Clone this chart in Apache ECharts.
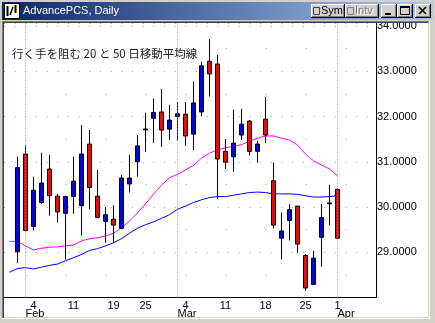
<!DOCTYPE html>
<html><head><meta charset="utf-8">
<script src="https://cdn.jsdelivr.net/npm/echarts@6/dist/echarts.min.js"></script>
<style>html,body{margin:0;padding:0;background:#D4D0C8;overflow:hidden}#c{width:435px;height:323px}</style>
</head><body><div id="c"></div>
<script>
// ---- data (index 0 = 30 Jan 2002, MA lines only) ----
const dates = ['2002-01-30','2002-01-31','2002-02-01','2002-02-04','2002-02-05','2002-02-06','2002-02-07','2002-02-08',
 '2002-02-11','2002-02-12','2002-02-13','2002-02-14','2002-02-15','2002-02-19','2002-02-20','2002-02-21','2002-02-22',
 '2002-02-25','2002-02-26','2002-02-27','2002-02-28','2002-03-01','2002-03-04','2002-03-05','2002-03-06','2002-03-07',
 '2002-03-08','2002-03-11','2002-03-12','2002-03-13','2002-03-14','2002-03-15','2002-03-18','2002-03-19','2002-03-20',
 '2002-03-21','2002-03-22','2002-03-25','2002-03-26','2002-03-27','2002-03-28','2002-04-01'];
const opens  = [null,29.01,31.17,29.57,30.10,30.84,30.24,29.86,30.23,30.03,31.39,30.24,29.68,29.73,29.53,30.51,31.00,
 31.725,31.96,32.10,31.72,32.00,32.05,31.61,32.10,33.22,33.16,31.23,31.11,31.59,31.90,31.23,31.94,30.58,29.31,29.70,
 30.02,28.93,28.29,29.33,30.09,30.39];
const closes = [null,30.87,29.48,30.37,30.53,30.25,29.89,30.23,30.57,31.17,30.43,29.77,29.83,29.60,30.64,30.64,31.35,
 31.705,32.09,31.70,31.92,32.06,31.57,32.30,33.12,32.94,31.06,30.99,31.41,31.83,31.23,31.39,31.59,29.60,29.47,29.94,
 29.18,28.21,28.87,29.77,30.07,29.31];
const lows   = [null,28.76,29.46,29.48,30.07,29.81,29.66,28.84,29.85,29.37,29.95,29.75,29.21,29.21,29.51,30.32,30.67,
 31.22,31.41,31.33,31.48,31.48,31.35,31.26,32.01,32.44,30.17,30.84,30.78,31.48,31.14,30.98,31.41,29.53,28.84,29.26,
 28.98,28.15,28.28,28.68,29.59,29.30];
const highs  = [null,31.11,31.36,30.67,31.20,31.15,30.29,30.25,31.11,31.81,31.70,30.82,30.00,30.04,30.71,31.15,31.59,
 32.08,32.40,32.61,32.26,32.32,32.32,32.77,33.21,33.71,33.36,31.50,32.15,32.17,31.92,31.46,32.43,30.98,29.88,30.06,
 30.02,28.96,29.03,30.07,30.49,30.41];
const ma20 = [29.24,29.24,29.14,29.05,29.09,29.11,29.12,29.14,29.16,29.25,29.30,29.32,29.36,29.42,29.54,29.69,29.87,
 30.07,30.28,30.48,30.65,30.72,30.82,30.92,31.08,31.19,31.26,31.31,31.34,31.38,31.45,31.52,31.57,31.57,31.52,31.48,
 31.37,31.17,31.02,30.93,30.84,30.69];
const ma50 = [28.56,28.64,28.66,28.63,28.67,28.71,28.74,28.81,28.88,28.95,29.04,29.08,29.14,29.21,29.30,29.42,29.53,
 29.61,29.67,29.75,29.83,29.95,30.02,30.10,30.16,30.21,30.23,30.23,30.26,30.29,30.32,30.33,30.32,30.29,30.29,30.29,
 30.28,30.25,30.22,30.22,30.23,30.25];
const dayTickIdx = [3,8,13,17,22,27,32,37,41];
const monthTickIdx = [2,21,41];
const monthNames = ['Jan','Feb','Mar','Apr','May','Jun','Jul','Aug','Sep','Oct','Nov','Dec'];
const priceTicks = {min:28, interval:1};
const noteText = '行く手を阻む 20 と 50 日移動平均線';
const windowTitle = 'AdvancePCS, Daily';

// ---- build ----
const candleData = [];
for (let i = 1; i < dates.length; i++) candleData.push([i, opens[i], closes[i], lows[i], highs[i]]);
const ma20Data = ma20.map((v, i) => [i, v]);
const ma50Data = ma50.map((v, i) => [i, v]);

const GL = 4, GR = 376, GT = 23, GB = 297.5;
const PX = 8, X0 = 9.5;
const xMin = (GL - X0) / PX, xMax = (GR - X0) / PX;
const yMax = 28 + (GB - GT) / 45.25;
const FONT = "'Liberation Sans', Arial, sans-serif";

function btn(x, y, w, h) {
  return [
    {type:'rect', z:50, shape:{x:x, y:y, width:w, height:h}, style:{fill:'#000'}},
    {type:'rect', z:50, shape:{x:x, y:y, width:w-1, height:h-1}, style:{fill:'#fff'}},
    {type:'rect', z:50, shape:{x:x+1, y:y+1, width:w-2, height:h-2}, style:{fill:'#808080'}},
    {type:'rect', z:50, shape:{x:x+1, y:y+1, width:w-3, height:h-3}, style:{fill:'#D4D0C8'}}
  ];
}

const chrome = [
  {type:'rect', z:-10, silent:true, shape:{x:4, y:23, width:424, height:294}, style:{fill:'#fff'}},
  {type:'rect', z:50, shape:{x:0, y:0, width:435, height:21}, style:{fill:'#D4D0C8'}},
  {type:'rect', z:50, shape:{x:2, y:2, width:431, height:18},
   style:{fill:new echarts.graphic.LinearGradient(0,0,1,0,[{offset:0,color:'#0A246A'},{offset:1,color:'#A6CAF0'}])}},
  {type:'rect', z:50, shape:{x:2, y:21, width:427, height:1}, style:{fill:'#808080'}},
  {type:'rect', z:50, shape:{x:2, y:21, width:1, height:298}, style:{fill:'#808080'}},
  {type:'rect', z:50, shape:{x:3, y:22, width:425, height:1}, style:{fill:'#404040'}},
  {type:'rect', z:50, shape:{x:3, y:22, width:1, height:296}, style:{fill:'#404040'}},
  {type:'rect', z:50, shape:{x:429, y:21, width:1, height:298}, style:{fill:'#fff'}},
  {type:'rect', z:50, shape:{x:2, y:318, width:428, height:1}, style:{fill:'#fff'}},
  // app icon
  {type:'rect', z:50, shape:{x:4.5, y:3.5, width:15, height:15}, style:{fill:'#fff', stroke:'#000', lineWidth:1}},
  {type:'polyline', z:50, shape:{points:[[7.5,6],[7.5,16]]}, style:{stroke:'#000', lineWidth:2}},
  {type:'polyline', z:50, shape:{points:[[10,15],[13,7]]}, style:{stroke:'#000', lineWidth:1.5}},
  {type:'polyline', z:50, shape:{points:[[15.5,5],[15.5,13]]}, style:{stroke:'#000', lineWidth:2}},
  {type:'text', z:50, x:23, y:11, style:{text:windowTitle, fill:'#fff', font:"11px " + FONT, textVerticalAlign:'middle'}},
  ...btn(311, 4, 34, 14),
  {type:'rect', z:50, shape:{x:313.5, y:7.5, width:6, height:7}, style:{fill:'#D4D0C8', stroke:'#404040', lineWidth:1}},
  {type:'text', z:50, x:321, y:11, style:{text:'Sym', fill:'#000', font:"11px " + FONT, textVerticalAlign:'middle'}},
  ...btn(345, 4, 34, 14),
  {type:'rect', z:50, shape:{x:347.5, y:7.5, width:6, height:7}, style:{fill:'#D4D0C8', stroke:'#808080', lineWidth:1}},
  {type:'text', z:50, x:356, y:12, style:{text:'Intv', fill:'#fff', font:"11px " + FONT, textVerticalAlign:'middle'}},
  {type:'text', z:50, x:355, y:11, style:{text:'Intv', fill:'#808080', font:"11px " + FONT, textVerticalAlign:'middle'}},
  ...btn(381, 4, 16, 14),
  {type:'rect', z:50, shape:{x:385, y:13, width:6, height:2}, style:{fill:'#000'}},
  ...btn(397, 4, 16, 14),
  {type:'rect', z:50, shape:{x:400.5, y:6.5, width:9, height:8}, style:{fill:'none', stroke:'#000', lineWidth:1}},
  {type:'rect', z:50, shape:{x:400, y:6, width:10, height:2}, style:{fill:'#000'}},
  ...btn(415, 4, 16, 14),
  {type:'polyline', z:50, shape:{points:[[419,7],[426,14]]}, style:{stroke:'#000', lineWidth:1.6}},
  {type:'polyline', z:50, shape:{points:[[426,7],[419,14]]}, style:{stroke:'#000', lineWidth:1.6}},
  // annotation
  {type:'text', z:60, x:12, y:54, style:{text:noteText, fill:'#1a1a1a', font:"11.5px 'Noto Sans CJK JP', sans-serif", textVerticalAlign:'middle'}}
];

const chart = echarts.init(document.getElementById('c'), null, {renderer:'canvas'});
chart.setOption({
  animation:false,
  backgroundColor:'#D4D0C8',
  grid:{left:GL, top:GT, width:GR-GL, height:GB-GT, containLabel:false, outerBoundsMode:'none'},
  xAxis:[{
    type:'value', position:'bottom', min:xMin, max:xMax,
    axisLine:{show:true, onZero:false, lineStyle:{color:'#000', width:1}},
    axisTick:{show:false}, splitLine:{show:false}, minorSplitLine:{show:false},
    axisLabel:{show:true, customValues:dayTickIdx, hideOverlap:false,
      formatter:v => String(parseInt(dates[Math.round(v)].slice(8), 10)),
      color:'#000', fontSize:11, fontFamily:FONT, margin:3}
  },{
    type:'value', position:'bottom', min:xMin, max:xMax,
    axisLine:{show:false}, axisTick:{show:false}, splitLine:{show:false},
    axisLabel:{show:true, customValues:monthTickIdx, hideOverlap:false, align:'left',
      formatter:v => monthNames[parseInt(dates[Math.round(v)].slice(5,7),10)-1],
      color:'#000', fontSize:11, fontFamily:FONT, margin:11}
  }],
  yAxis:{
    type:'value', position:'right', min:priceTicks.min, max:yMax, interval:priceTicks.interval,
    axisLine:{show:true, onZero:false, lineStyle:{color:'#000', width:1}},
    axisTick:{show:false},
    axisLabel:{formatter:v => v.toFixed(4), margin:1, color:'#000', fontSize:11, fontFamily:FONT,
      showMinLabel:false, showMaxLabel:false, hideOverlap:false},
    splitLine:{show:true, lineStyle:{color:'#a0a0a0', width:1, type:[1,9.67]}},
    minorTick:{show:false, splitNumber:2},
    minorSplitLine:{show:true, lineStyle:{color:'#a0a0a0', width:1, type:[1,39], dashOffset:18.5}}
  },
  series:[{
    type:'line', name:'MA50', data:ma50Data, z:2, showSymbol:false, symbol:'none', silent:true,
    lineStyle:{color:'#0000FF', width:1}, itemStyle:{color:'#0000FF'}
  },{
    type:'line', name:'MA20', data:ma20Data, z:2, showSymbol:false, symbol:'none', silent:true,
    lineStyle:{color:'#FF00FF', width:1}, itemStyle:{color:'#FF00FF'},
    markLine:{silent:true, symbol:['none','none'], label:{show:false}, animation:false,
      lineStyle:{color:'#8c8c8c', width:1, type:[1,2]},
      data: monthTickIdx.map(i => ({xAxis:i}))}
  },{
    type:'candlestick', name:'Price', data:candleData, z:4, barWidth:5,
    encode:{x:0, y:[1,2,3,4]},
    itemStyle:{color:'#0000FF', color0:'#FF0000', borderColor:'#000', borderColor0:'#000', borderColorDoji:'#000', borderWidth:1}
  }],
  graphic:{elements:chrome}
});
</script></body></html>
